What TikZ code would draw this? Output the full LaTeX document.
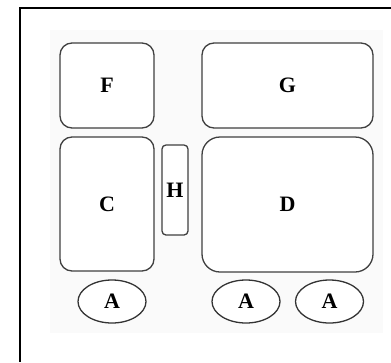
\documentclass[tikz,border=0pt]{standalone}
\usepackage{fontspec}
\setmainfont{Liberation Serif}
\usetikzlibrary{shapes.geometric}
\begin{document}
\begin{tikzpicture}[x=1pt,y=-1pt,
  lbl/.style={font=\bfseries\fontsize{22}{22}\selectfont},
  box/.style={draw=black!75,line width=1.3pt,fill=white,rounded corners=#1,inner sep=0pt,lbl},
  box/.default=12pt,
  oval/.style={ellipse,draw=black!80,line width=1.3pt,fill=white,inner sep=0pt,minimum width=68pt,minimum height=43pt,lbl}]
\useasboundingbox (0,0) rectangle (391,362);
\fill[black!2] (50,30) rectangle (383,333);
\draw[line width=2.6pt] (391,8) -- (20,8) -- (20,362);
\node[box,minimum width=94pt,minimum height=85pt] (F) at (107,85.5) {F};
\node[box,minimum width=171pt,minimum height=85pt] (G) at (287.5,85.5) {G};
\node[box,minimum width=94pt,minimum height=134pt] (C) at (107,204) {C};
\node[box=18pt,minimum width=171pt,minimum height=135pt] (D) at (287.5,204.5) {D};
\node[box=4pt,minimum width=26pt,minimum height=90pt] (H) at (175,190) {H};
\node[oval] (A1) at (112,301.5) {A};
\node[oval] (A2) at (246,301.5) {A};
\node[oval] (A3) at (329.5,301.5) {A};
\end{tikzpicture}
\end{document}
